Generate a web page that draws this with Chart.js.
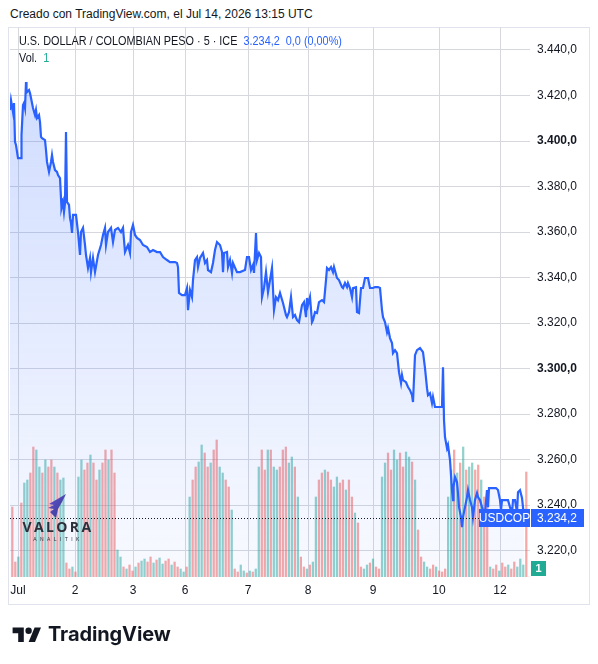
<!DOCTYPE html>
<html>
<head>
<meta charset="utf-8">
<script src="https://cdn.jsdelivr.net/npm/chart.js@4.4.1/dist/chart.umd.min.js"></script>
<style>
  body { margin: 0; width: 598px; height: 664px; position: relative; overflow: hidden; background: #fff;
         font-family: "Liberation Sans", Arial, sans-serif; color: #131722; }
  #created { position: absolute; left: 10px; top: 7px; font-size: 12px; }
  #frame { position: absolute; left: 8px; top: 27px; width: 582px; height: 578px; border: 1px solid #e0e3eb; box-sizing: border-box; }
  #wrap { position: absolute; left: 10px; top: 27px; width: 580px; height: 578px; }
  #legend { position: absolute; left: 19px; top: 33px; font-size: 12px; line-height: 17px; transform: scaleX(0.905); transform-origin: 0 0; white-space: nowrap; }
  #legend .blue { color: #2962ff; }
  #legend .teal { color: #22ab94; }
  #valora { position: absolute; left: 19px; top: 494px; width: 78px; text-align: center; color: #2b2f3a; }
  #valora svg { margin-left: -4px; }
  #valora .name { font-family: "Open Sans", sans-serif; font-weight: 700; font-size: 14px; letter-spacing: 2.4px; line-height: 14px; margin-top: -2px; }
  #valora .sub { font-size: 5px; letter-spacing: 3.4px; line-height: 6px; margin-top: 2px; }
  #tvlogo { position: absolute; left: 12px; top: 622px; display: flex; align-items: center; }
  #tvlogo span { font-family: Inter, sans-serif; font-weight: 700; font-size: 20px; margin-left: 6px; color: #131722; letter-spacing: -0.1px; }
</style>
</head>
<body>
<div id="created">Creado con TradingView.com, el Jul 14, 2026 13:15 UTC</div>
<div id="frame"></div>
<div id="wrap"><canvas id="chart" width="580" height="578"></canvas></div>
<div id="legend">
  <div>U.S. DOLLAR / COLOMBIAN PESO · 5 · ICE&nbsp; <span class="blue">3.234,2&nbsp; 0,0 (0,00%)</span></div>
  <div>Vol.&nbsp; <span class="teal">1</span></div>
</div>
<div id="valora">
  <svg width="22" height="24" viewBox="0 0 22 24">
    <defs><linearGradient id="vg" x1="0" y1="0" x2="1" y2="1"><stop offset="0" stop-color="#6a4fd0"/><stop offset="1" stop-color="#2e3f8f"/></linearGradient></defs>
    <path d="M21 0 L4 10 L9 11 L3 14 L9 15 L5 18 L11 24 L13 15 L17 8 Z" fill="url(#vg)"/>
  </svg>
  <div class="name">VALORA</div>
  <div class="sub">ANALITIK</div>
</div>
<div id="tvlogo">
  <svg width="30" height="16" viewBox="0 2 36 20"><path d="M14 22H7V11H0V4h14v18z" fill="#131722"/><circle cx="20" cy="8" r="4" fill="#131722"/><path d="M28 22h-8l7.5-18h8z" fill="#131722"/></svg>
  <span>TradingView</span>
</div>
<script>
// price line, 5-minute closes: [time slot, price]
const pricePoints = [
  [0,3413.6],[1,3418.0],[3,3412.7],[4,3416.7],[5,3399.6],[6,3398.2],[8,3392.5],[11,3392.5],[11.5,3402.6],[12,3407.0],
  [13,3415.8],[14,3416.7],[15,3414.5],[16,3425.9],[16.5,3422.4],[17,3421.5],[19,3422.4],[20,3421.1],[21,3418.9],[23,3414.5],
  [25,3411.4],[26,3413.6],[27,3410.1],[29,3411.4],[30,3408.3],[31,3401.8],[32,3401.3],[35,3400.4],[36,3396.0],[37,3390.8],
  [39,3386.4],[41,3390.8],[42,3393.8],[43,3390.8],[45,3387.2],[47,3386.4],[48,3385.0],[50,3383.7],[51,3374.9],[51.5,3370.5],
  [53,3373.2],[54,3368.8],[55,3372.7],[56,3404.0],[57,3373.2],[59,3371.9],[60,3366.1],[61,3364.0],[62,3359.6],[63,3367.5],
  [66,3367.5],[68,3360.0],[70,3349.9],[71,3360.0],[73,3361.8],[75,3354.3],[76,3349.9],[78,3344.2],[80,3348.6],[81,3342.4],
  [83,3348.6],[85,3342.4],[88,3349.9],[91,3354.3],[93,3358.7],[95,3361.8],[96,3354.3],[98,3360.0],[101,3361.8],[103,3355.6],
  [105,3360.9],[108,3361.8],[111,3360.0],[113,3361.8],[115,3351.2],[118,3354.3],[120,3350.8],[121,3360.0],[123,3363.1],[125,3358.7],
  [127,3357.4],[130,3356.5],[133,3354.3],[137,3353.4],[140,3351.2],[143,3352.1],[147,3351.2],[150,3351.2],[153,3349.0],[157,3347.7],
  [160,3346.8],[165,3346.8],[167,3346.4],[168,3344.6],[169,3333.2],[172,3332.3],[175,3332.3],[177,3335.4],[178,3325.7],[180,3334.5],
  [182,3331.4],[183,3338.9],[185,3347.7],[187,3349.0],[188,3344.6],[190,3348.6],[193,3350.8],[195,3346.4],[197,3347.7],[198,3343.3],
  [201,3342.4],[203,3346.4],[205,3352.1],[207,3355.6],[210,3354.3],[212,3351.2],[213,3342.4],[214,3350.8],[217,3351.2],[218,3344.6],
  [220,3347.7],[222,3342.0],[223,3346.4],[227,3342.4],[230,3342.4],[235,3343.3],[237,3349.0],[239,3349.0],[241,3343.3],[243,3345.5],
  [244,3342.0],[246,3359.6],[247,3347.7],[249,3350.8],[251,3349.0],[252,3331.4],[254,3335.4],[256,3342.4],[258,3333.6],[262,3344.2],
  [264,3325.7],[266,3331.4],[268,3330.1],[270,3333.2],[273,3328.8],[276,3323.5],[277,3322.6],[279,3324.8],[281,3331.4],[283,3322.6],
  [285,3323.5],[287,3321.3],[289,3320.4],[292,3327.9],[294,3329.2],[296,3322.6],[297,3331.0],[298,3327.9],[300,3331.4],[302,3320.4],
  [303,3321.3],[305,3324.8],[307,3324.4],[309,3329.2],[312,3330.1],[314,3329.2],[316,3338.9],[317,3344.2],[319,3343.3],[321,3344.6],
  [323,3342.4],[324,3344.6],[327,3339.8],[329,3338.9],[332,3335.8],[333,3335.4],[335,3337.6],[337,3335.8],[338,3337.6],[340,3335.4],
  [342,3331.4],[343,3335.4],[346,3335.8],[347,3324.8],[349,3324.4],[351,3335.4],[353,3335.4],[355,3339.8],[358,3339.8],[360,3335.4],
  [363,3335.4],[365,3335.8],[368,3335.8],[370,3335.4],[372,3325.7],[373,3322.6],[375,3320.4],[377,3316.0],[378,3317.8],[380,3313.4],
  [382,3311.2],[383,3306.8],[385,3308.1],[387,3306.8],[389,3298.4],[391,3293.6],[392,3297.1],[393,3294.9],[396,3294.0],[398,3291.9],
  [400,3290.5],[402,3288.3],[403,3285.3],[405,3305.9],[407,3308.1],[410,3309.0],[413,3307.2],[415,3300.2],[417,3291.4],[418,3288.3],
  [420,3289.2],[422,3284.8],[423,3287.5],[425,3283.1],[432,3283.1],[433,3300.6],[434,3277.4],[435,3269.9],[437,3265.0],[438,3266.4],
  [440,3259.8],[441,3253.2],[442,3246.6],[443,3242.2],[443.5,3248.0],[445,3252.3],[447,3250.1],[448,3245.3],[449,3239.1],[451,3234.7],
  [452,3230.3],[453,3234.7],[455,3239.1],[457,3243.5],[458,3246.6],[460,3242.2],[462,3239.1],[463,3234.7],[465,3242.2],[467,3245.3],
  [468,3243.5],[470,3242.2],[472,3239.1],[473,3237.8],[475,3236.5],[477,3246.6],[478,3239.1],[479,3247.5],[486,3247.5],[488,3246.6],
  [490,3242.2],[491,3237.8],[492,3242.2],[498,3242.2],[500,3239.1],[502,3236.5],[503,3242.2],[505,3242.2],[507,3236.9],[508,3245.7],
  [510,3246.6],[512,3243.1],[513,3239.1],[514,3234.2]
];
const lastPrice = 3234.2;
const lastVolume = 1;

// volume bars, one per slot (arbitrary units), and up/down colouring
const volumes = [
  70,15,20,
  74,94,97,104,130,127,110,104,117,110,117,110,104,97,99,
  14,8,10,5,
  100,117,107,114,122,114,97,107,114,127,117,127,104,
  27,20,10,
  8,12,6,10,14,16,18,15,20,14,17,19,13,16,18,12,15,10,8,5,
  10,
  80,97,110,115,132,124,110,114,127,137,110,104,97,90,67,
  8,5,12,6,4,6,5,8,
  110,127,107,127,127,110,107,110,127,130,114,120,110,80,
  20,10,8,12,15,
  80,97,104,107,105,97,90,100,94,97,87,97,80,64,54,
  10,8,12,14,18,10,8,
  100,114,124,107,127,117,124,110,125,120,115,97,47,
  20,15,10,8,12,10,6,5,8,
  80,107,127,104,114,130,107,110,114,107,112,97,80,74,
  10,8,12,6,14,10,12,8,15,10,18,12,
  105,0
];
const volumeDirs = (
  "dduduudduu" + "dudduduudd" + "uduudduddu" + "ddudduudud" + "duduuddudu" +
  "uddudduudu" + "dduudduddu" + "uddudduudu" + "duudduduud" + "dduududdud" +
  "uuddudduud" + "duddudduud" + "udduudduud" + "duududduud" + "duddduudud" +
  "uduudduddu" + "dduddudduu" + "udd").split("");

// axes
const dayTicks = [8, 65, 123, 175, 238, 298, 363, 429, 490];
const dayLabels = ["Jul", "2", "3", "6", "7", "8", "9", "10", "12"];
const priceTicks = [3220, 3240, 3260, 3280, 3300, 3320, 3340, 3360, 3380, 3400, 3420, 3440];

function fmtPrice(v) {
  const s = v.toFixed(1).split(".");
  const int = s[0].replace(/\B(?=(\d{3})+(?!\d))/g, ".");
  return int + "," + s[1];
}

function noPadding(scale) {
  scale.paddingTop = 0; scale.paddingBottom = 0;
  scale.paddingLeft = 0; scale.paddingRight = 0;
}

const lastPricePlugin = {
  id: "lastPrice",
  afterDatasetsDraw(chart) {
    const ctx = chart.ctx;
    const a = chart.chartArea;
    const y = Math.round(chart.scales.y.getPixelForValue(lastPrice)) + 0.5;
    ctx.save();
    ctx.strokeStyle = "#131722";
    ctx.lineWidth = 1;
    ctx.setLineDash([1, 2]);
    ctx.beginPath();
    ctx.moveTo(a.left, y);
    ctx.lineTo(a.right - 51, y);
    ctx.stroke();
    ctx.setLineDash([]);

    ctx.fillStyle = "#2962ff";
    ctx.fillRect(a.right - 51, y - 9.5, 51, 18);
    ctx.fillRect(a.right + 1, y - 9.5, 53, 18);
    ctx.fillStyle = "#fff";
    ctx.font = '12px "Liberation Sans", Arial, sans-serif';
    ctx.textBaseline = "middle";
    ctx.textAlign = "center";
    ctx.fillText("USDCOP", a.right - 25.5, y);
    ctx.textAlign = "left";
    ctx.fillText(fmtPrice(lastPrice), a.right + 7, y);

    ctx.fillStyle = "#22ab94";
    ctx.fillRect(a.right + 1, a.bottom - 16, 15, 15);
    ctx.fillStyle = "#fff";
    ctx.textAlign = "center";
    ctx.font = 'bold 11px "Liberation Sans", Arial, sans-serif';
    ctx.fillText(String(lastVolume), a.right + 8.5, a.bottom - 8);
    ctx.restore();
  }
};

Chart.defaults.font.family = '"Liberation Sans", Arial, sans-serif';
Chart.defaults.color = "#131722";

new Chart("chart", {
  type: "line",
  data: {
    labels: volumes.map((v, i) => i),
    datasets: [
      {
        type: "line",
        data: pricePoints.map(p => ({ x: p[0], y: p[1] })),
        xAxisID: "x",
        yAxisID: "y",
        borderColor: "#2962ff",
        borderWidth: 2.2,
        pointRadius: 0,
        tension: 0,
        fill: "start",
        order: 0,
        backgroundColor: function(context) {
          const area = context.chart.chartArea;
          if (!area) return "rgba(41,98,255,0.12)";
          const g = context.chart.ctx.createLinearGradient(0, area.top, 0, area.bottom);
          g.addColorStop(0, "rgba(41,98,255,0.24)");
          g.addColorStop(1, "rgba(41,98,255,0.03)");
          return g;
        }
      },
      {
        type: "bar",
        data: volumes,
        xAxisID: "xv",
        yAxisID: "yv",
        barThickness: 1.6,
        order: 1,
        backgroundColor: volumeDirs.map(d => d === "u" ? "rgba(38,166,154,0.5)" : "rgba(239,83,80,0.5)")
      }
    ]
  },
  options: {
    responsive: false,
    animation: false,
    layout: { padding: 0 },
    plugins: { legend: { display: false }, tooltip: { enabled: false } },
    scales: {
      x: {
        type: "linear",
        min: 0,
        max: 520,
        afterBuildTicks: scale => { scale.ticks = dayTicks.map(v => ({ value: v })); },
        afterFit: scale => { scale.height = 28; noPadding(scale); },
        grid: { color: "#d6d8de", drawTicks: false },
        border: { display: false },
        ticks: {
          autoSkip: false,
          maxRotation: 0,
          padding: 6,
          font: { size: 12 },
          callback: v => dayLabels[dayTicks.indexOf(v)]
        }
      },
      xv: {
        type: "category",
        display: false,
        offset: true
      },
      y: {
        position: "right",
        min: 3208.4,
        max: 3450.1,
        afterBuildTicks: scale => { scale.ticks = priceTicks.map(v => ({ value: v })); },
        afterFit: scale => { scale.width = 60; noPadding(scale); },
        grid: { color: "#d6d8de", drawTicks: false },
        border: { display: false },
        ticks: {
          padding: 7,
          font: ctx => ({ size: 12, weight: ctx.tick && ctx.tick.value % 100 === 0 ? "bold" : "normal" }),
          callback: v => fmtPrice(v)
        }
      },
      yv: {
        display: false,
        min: 0,
        max: 550
      }
    }
  },
  plugins: [lastPricePlugin]
});
</script>
</body>
</html>
